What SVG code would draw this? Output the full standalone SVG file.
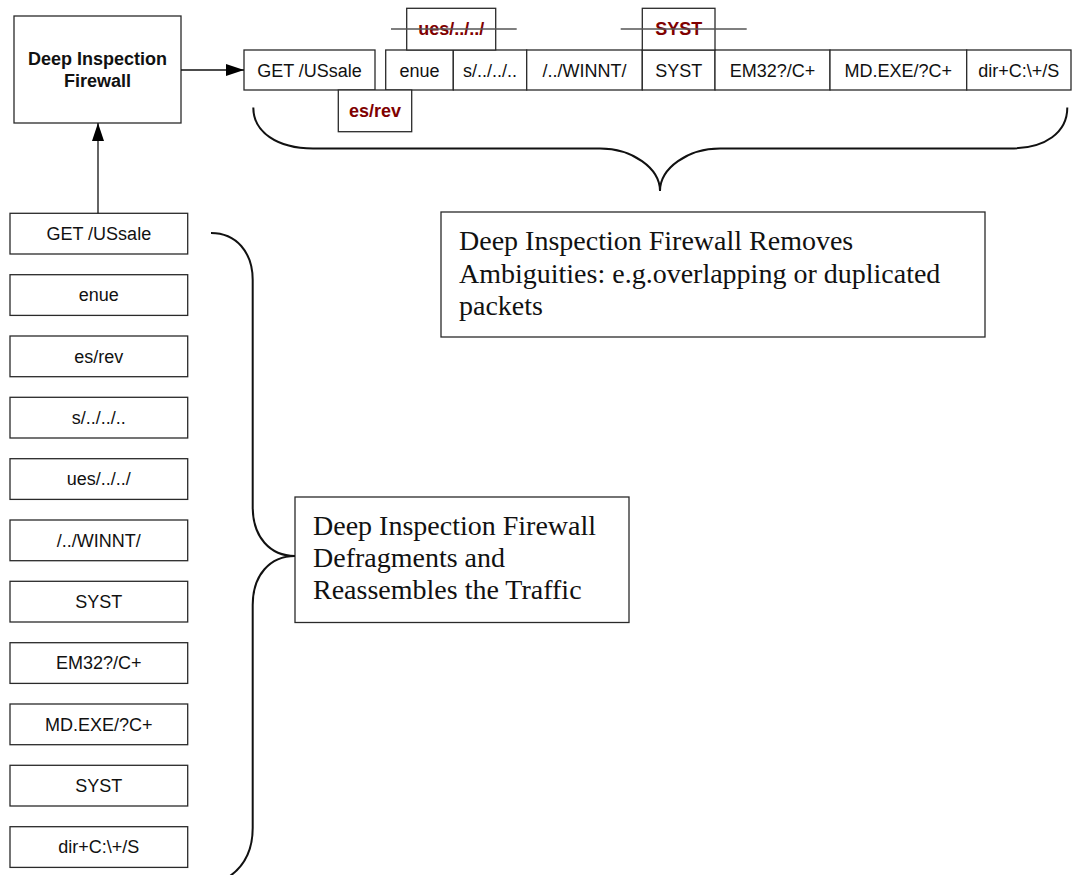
<svg xmlns="http://www.w3.org/2000/svg" width="1075" height="875" viewBox="0 0 1075 875">
  <style>
    .box { fill: #ffffff; stroke: #2a2a2a; stroke-width: 1.3; }
    .lbl { font-family: "Liberation Sans", Arial, sans-serif; font-size: 18px; fill: #111; text-anchor: middle; }
    .bold { font-weight: bold; }
    .red { font-family: "Liberation Sans", Arial, sans-serif; font-size: 18px; font-weight: bold; fill: #800000; text-anchor: middle; }
    .note { font-family: "Liberation Serif", "Times New Roman", serif; font-size: 28px; fill: #111; }
    .wire { fill: none; stroke: #111; stroke-width: 1.3; }
    .brace { fill: none; stroke: #111; stroke-width: 2; }
    .strike { stroke: #555; stroke-width: 1.3; }
  </style>
  <defs>
    <marker id="arrow" viewBox="0 0 18 12" refX="18" refY="6" markerWidth="18" markerHeight="12" markerUnits="userSpaceOnUse" orient="auto">
      <path d="M0,0 L18,6 L0,12 Z" fill="#000"/>
    </marker>
  </defs>
  <rect width="1075" height="875" fill="#ffffff"/>

  <!-- firewall -->
  <g id="firewall">
    <rect class="box" x="14" y="16" width="167" height="107"/>
    <text class="lbl bold" x="97.5" y="65">Deep Inspection</text>
    <text class="lbl bold" x="97.5" y="87">Firewall</text>
  </g>

  <!-- reassembled stream (top row) -->
  <g id="stream">
    <rect class="box" x="244" y="50" width="131" height="40"/>
    <text class="lbl" x="309.5" y="76.5">GET /USsale</text>
    <rect class="box" x="385.7" y="50" width="67.6" height="40"/>
    <text class="lbl" x="419.5" y="76.5">enue</text>
    <rect class="box" x="453.3" y="50" width="73.4" height="40"/>
    <text class="lbl" x="490" y="76.5">s/../../..</text>
    <rect class="box" x="526.7" y="50" width="115.6" height="40"/>
    <text class="lbl" x="584.5" y="76.5">/../WINNT/</text>
    <rect class="box" x="642.3" y="50" width="72.7" height="40"/>
    <text class="lbl" x="678.7" y="76.5">SYST</text>
    <rect class="box" x="715" y="50" width="115" height="40"/>
    <text class="lbl" x="772.5" y="76.5">EM32?/C+</text>
    <rect class="box" x="830" y="50" width="136.7" height="40"/>
    <text class="lbl" x="898.3" y="76.5">MD.EXE/?C+</text>
    <rect class="box" x="966.7" y="50" width="104.3" height="40"/>
    <text class="lbl" x="1018.8" y="76.5">dir+C:\+/S</text>
  </g>

  <!-- dropped / out-of-place segments -->
  <g id="overlap-ues">
    <rect class="box" x="406.7" y="8.3" width="89" height="41.7"/>
    <text class="red" x="451.2" y="35.4">ues/../../</text>
    <line class="strike" x1="391" y1="29" x2="516.7" y2="29"/>
  </g>
  <g id="overlap-syst">
    <rect class="box" x="642.3" y="8.3" width="72.7" height="41.7"/>
    <text class="red" x="678.7" y="35.4">SYST</text>
    <line class="strike" x1="620.7" y1="29" x2="746.7" y2="29"/>
  </g>
  <g id="overlap-esrev">
    <rect class="box" x="338.3" y="90" width="73.4" height="41.7"/>
    <text class="red" x="375" y="117">es/rev</text>
  </g>

  <!-- fragments column -->
  <g id="fragments">
    <rect class="box" x="10" y="213.3" width="177.7" height="40.7"/>
    <text class="lbl" x="98.8" y="240">GET /USsale</text>
    <rect class="box" x="10" y="274.7" width="177.7" height="40.7"/>
    <text class="lbl" x="98.8" y="301.4">enue</text>
    <rect class="box" x="10" y="336" width="177.7" height="40.7"/>
    <text class="lbl" x="98.8" y="362.7">es/rev</text>
    <rect class="box" x="10" y="397.3" width="177.7" height="40.7"/>
    <text class="lbl" x="98.8" y="424">s/../../..</text>
    <rect class="box" x="10" y="458.7" width="177.7" height="40.7"/>
    <text class="lbl" x="98.8" y="485.4">ues/../../</text>
    <rect class="box" x="10" y="520" width="177.7" height="40.7"/>
    <text class="lbl" x="98.8" y="546.7">/../WINNT/</text>
    <rect class="box" x="10" y="581.3" width="177.7" height="40.7"/>
    <text class="lbl" x="98.8" y="608">SYST</text>
    <rect class="box" x="10" y="642.7" width="177.7" height="40.7"/>
    <text class="lbl" x="98.8" y="669.4">EM32?/C+</text>
    <rect class="box" x="10" y="704" width="177.7" height="40.7"/>
    <text class="lbl" x="98.8" y="730.7">MD.EXE/?C+</text>
    <rect class="box" x="10" y="765.3" width="177.7" height="40.7"/>
    <text class="lbl" x="98.8" y="792">SYST</text>
    <rect class="box" x="10" y="826.7" width="177.7" height="40.7"/>
    <text class="lbl" x="98.8" y="853.4">dir+C:\+/S</text>
  </g>

  <!-- notes -->
  <g id="note-ambiguities">
    <rect class="box" x="441" y="212" width="544" height="125"/>
    <text class="note" x="459" y="250">Deep Inspection Firewall Removes</text>
    <text class="note" x="459" y="282.5">Ambiguities: e.g.overlapping or duplicated</text>
    <text class="note" x="459" y="315">packets</text>
  </g>
  <g id="note-defrag">
    <rect class="box" x="295" y="497" width="334" height="125.5"/>
    <text class="note" x="313" y="534.5">Deep Inspection Firewall</text>
    <text class="note" x="313" y="566.5">Defragments and</text>
    <text class="note" x="313" y="598.5">Reassembles the Traffic</text>
  </g>

  <!-- connectors and braces -->
  <g id="connectors">
    <line class="wire" x1="181" y1="70" x2="244" y2="70" marker-end="url(#arrow)"/>
    <line class="wire" x1="98" y1="213.3" x2="98" y2="123" marker-end="url(#arrow)"/>
    <path class="brace" d="M253.3,107.5 C253.3,132 277,148.5 313,148.5 L600,148.5 C632,148.5 660,168 660,191 C660,168 688,148.5 720,148.5 L1010,148.5 C1046,148.5 1067.3,132 1067.3,107.5"/>
    <path class="brace" d="M211,233 C236,233 252.7,252 252.7,280 L252.7,507 C252.7,537 270,556 295,556 C270,556 252.7,575 252.7,605 L252.7,828 C252.7,852 244,866 230,876"/>
  </g>
</svg>
